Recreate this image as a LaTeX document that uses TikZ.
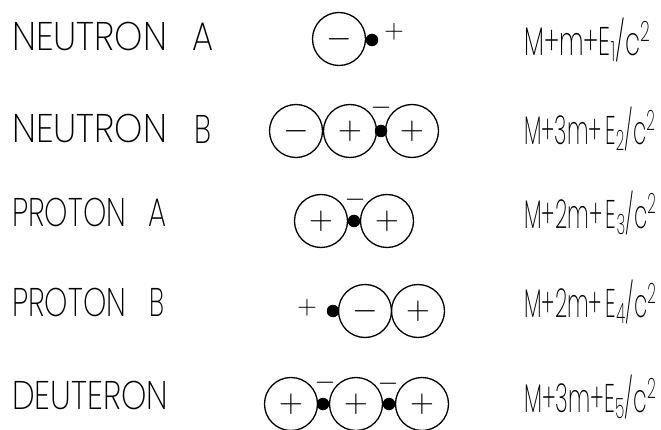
\RequirePackage{fix-cm}
\documentclass[tikz,border=0pt]{standalone}
\usepackage{fontspec}
\setmainfont{Poppins ExtraLight}
\usepackage{graphicx}
\newcommand\lbltxt[2]{\resizebox{#1pt}{\height}{\fontsize{40}{40}\selectfont #2}}
\newcommand\frmtxt[2]{\resizebox{#1pt}{\height}{\fontsize{40}{40}\selectfont #2}}
\begin{document}
\begin{tikzpicture}[x=1pt,y=-1pt,
  atom/.style={circle,draw,line width=1.3pt,minimum size=53pt,inner sep=0pt,font=\fontsize{33}{33}\selectfont},
  dotp/.style={circle,fill,minimum size=12.5pt,inner sep=0pt},
  sgn/.style={inner sep=0pt,font=\fontsize{27}{27}\selectfont},
  lbl/.style={anchor=west,inner sep=0pt},
  frm/.style={anchor=west,inner sep=0pt}]
\useasboundingbox (0,0) rectangle (661,430);
% labels
\node[lbl] (l1) at (12,37) {\lbltxt{155}{NEUTRON}};
\node[lbl] (l1b) at (192,37) {\lbltxt{21}{A}};
\node[lbl] (l2) at (12,129) {\lbltxt{155}{NEUTRON}};
\node[lbl] (l2b) at (194,129) {\lbltxt{17}{B}};
\node[lbl] (l3) at (12,213) {\lbltxt{114}{PROTON}};
\node[lbl] (l3b) at (148,213) {\lbltxt{18}{A}};
\node[lbl] (l4) at (12,302) {\lbltxt{114}{PROTON}};
\node[lbl] (l4b) at (149,302) {\lbltxt{15}{B}};
\node[lbl] (l5) at (12,395) {\lbltxt{156}{DEUTERON}};
% formulas
\node[frm] (f1) at (524,40) {\frmtxt{126}{M+m+E\textsubscript{1}/c\textsuperscript{2}}};
\node[frm] (f2) at (524,129) {\frmtxt{131}{M+3m+\,E\textsubscript{2}/c\textsuperscript{2}}};
\node[frm] (f3) at (524,213) {\frmtxt{132}{M+2m+\,E\textsubscript{3}/c\textsuperscript{2}}};
\node[frm] (f4) at (524,302) {\frmtxt{132}{M+2m+\,E\textsubscript{4}/c\textsuperscript{2}}};
\node[frm] (f5) at (524,397) {\frmtxt{132}{M+3m+E\textsubscript{5}/c\textsuperscript{2}}};
% row 1
\node[atom] (a1) at (339,39) {$-$};
\node[dotp] (d1) at (372,40) {};
\node[sgn] (p1) at (394,32) {$+$};
% row 2
\node[atom] (b1) at (296,131) {$-$};
\node[atom] (b2) at (350,131) {$+$};
\node[atom] (b3) at (412,131) {$+$};
\node[dotp] (e1) at (381,131) {};
\node[sgn] (m2) at (381,108) {$-$};
% row 3
\node[atom] (c1) at (321,221) {$+$};
\node[atom] (c2) at (387,221) {$+$};
\node[dotp] (g1) at (354,221) {};
\node[sgn] (m3) at (355,200) {$-$};
% row 4
\node[atom] (h1) at (365,311) {$-$};
\node[atom] (h2) at (418,311) {$+$};
\node[dotp] (k1) at (333,311) {};
\node[sgn] (p4) at (307,308) {$+$};
% row 5
\node[atom] (q1) at (291,404) {$+$};
\node[atom] (q2) at (356,404) {$+$};
\node[atom] (q3) at (422,404) {$+$};
\node[dotp] (r1) at (323,404) {};
\node[dotp] (r2) at (389,404) {};
\node[sgn] (m5a) at (325,383) {$-$};
\node[sgn] (m5b) at (388,384) {$-$};
\end{tikzpicture}
\end{document}
